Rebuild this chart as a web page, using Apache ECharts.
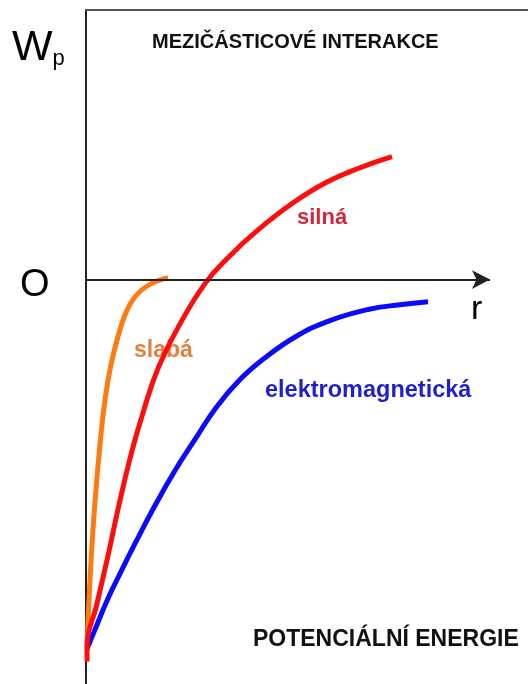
<!DOCTYPE html>
<html>
<head>
<meta charset="utf-8">
<title>Mezičásticové interakce</title>
<script src="https://cdn.jsdelivr.net/npm/echarts@6/dist/echarts.min.js"></script>
<style>
  html, body { margin: 0; padding: 0; background: #fff; }
  #chart { width: 528px; height: 684px; }
</style>
</head>
<body>
<div id="chart"></div>
<script>
// curves as [r, Wp] pairs (arbitrary units, Wp = 0 on the r axis)
const silna = [
  [0.23, -14.17], [0.23, -13.65], [2.49, -12.02], [4.98, -10.24], [7.47, -8.35],
  [10.18, -6.49], [13.12, -4.82], [16.29, -3.30], [20.81, -1.78], [26.92, -0.15],
  [32.35, 0.85], [38.46, 1.78], [46.61, 2.82], [54.30, 3.60], [61.99, 4.15], [69.23, 4.56]
]
const slaba = [
  [0.23, -13.65], [0.68, -11.87], [1.36, -9.83], [2.26, -7.79], [3.17, -6.12],
  [4.30, -4.45], [5.66, -3.15], [7.24, -2.11], [9.05, -1.22], [11.31, -0.59],
  [14.03, -0.22], [16.29, -0.04], [18.55, 0.07]
]
const elmag = [
  [0.23, -13.69], [2.49, -12.80], [4.75, -11.91], [7.92, -10.83], [11.31, -9.72],
  [15.61, -8.38], [20.14, -7.08], [24.66, -5.93], [29.41, -4.75], [34.84, -3.71],
  [40.27, -2.93], [47.51, -2.11], [55.20, -1.52], [63.80, -1.11], [71.04, -0.93], [77.38, -0.82]
]
const rAxisEnd = 91.4 // where the r arrow stops

const xRange = [0, 100]
const yRange = [-15, 10]

const C = {
  axis: '#222',
  red: '#ff0d0d',
  orange: '#ff7a10',
  blue: '#0a0aff',
  redText: '#d8253a',
  orangeText: '#e3803f',
  blueText: '#1f1fcc'
}

const chart = echarts.init(document.getElementById('chart'))

const curve = (name, data, color) => ({
  name,
  type: 'line',
  data,
  smooth: 0.45,
  showSymbol: false,
  silent: true,
  lineStyle: { color, width: 5, cap: 'butt' }
})

const boldText = (left, top, text, color, size) => ({
  type: 'text',
  left,
  top,
  silent: true,
  style: {
    text,
    fill: color,
    font: `bold ${size}px "Liberation Sans", Arial, sans-serif`
  }
})

chart.setOption({
  animation: false,
  grid: { left: 86, right: 0, top: 10, bottom: 0 },
  xAxis: [
    {
      type: 'value',
      min: xRange[0],
      max: xRange[1],
      axisLine: { show: false },
      axisTick: { show: false },
      axisLabel: { show: false },
      splitLine: { show: false }
    },
    {
      // top frame line
      type: 'value',
      position: 'top',
      min: xRange[0],
      max: xRange[1],
      axisLine: { show: true, onZero: false, lineStyle: { color: '#555', width: 2 } },
      axisTick: { show: false },
      axisLabel: { show: false },
      splitLine: { show: false }
    }
  ],
  yAxis: {
    type: 'value',
    min: yRange[0],
    max: yRange[1],
    axisLine: { show: true, onZero: false, lineStyle: { color: C.axis, width: 2 } },
    axisTick: { show: false },
    axisLabel: { show: false },
    splitLine: { show: false }
  },
  series: [
    {
      // r axis with arrow, drawn at Wp = 0
      type: 'line',
      data: [],
      silent: true,
      markLine: {
        silent: true,
        symbol: ['none', 'arrow'],
        symbolSize: [14, 18],
        label: { show: false },
        lineStyle: { color: C.axis, width: 2, type: 'solid' },
        data: [[{ coord: [0, 0] }, { coord: [rAxisEnd, 0] }]]
      }
    },
    curve('slabá', slaba, C.orange),
    curve('elektromagnetická', elmag, C.blue),
    curve('silná', silna, C.red)
  ],
  graphic: [
    {
      type: 'text',
      left: 12,
      top: 27,
      silent: true,
      style: {
        text: '{w|W}{p|p}',
        rich: {
          w: { fontSize: 43, fontFamily: '"Liberation Sans", Arial, sans-serif', fill: '#000' },
          p: { fontSize: 22, fontFamily: '"Liberation Sans", Arial, sans-serif', fill: '#000', verticalAlign: 'bottom', padding: [16, 0, 0, 0] }
        }
      }
    },
    {
      type: 'text',
      left: 20,
      top: 267,
      silent: true,
      style: { text: 'O', fill: '#000', font: '38px "Liberation Sans", Arial, sans-serif' }
    },
    {
      type: 'text',
      left: 471,
      top: 293,
      silent: true,
      style: { text: 'r', fill: '#000', font: '34px "Liberation Sans", Arial, sans-serif' }
    },
    boldText(152, 32, 'MEZIČÁSTICOVÉ INTERAKCE', '#111', 20),
    boldText(297, 207, 'silná', C.redText, 22),
    boldText(134, 339, 'slabá', C.orangeText, 23),
    boldText(265, 379, 'elektromagnetická', C.blueText, 23.5),
    boldText(253, 628, 'POTENCIÁLNÍ ENERGIE', '#111', 23)
  ]
})
</script>
</body>
</html>
